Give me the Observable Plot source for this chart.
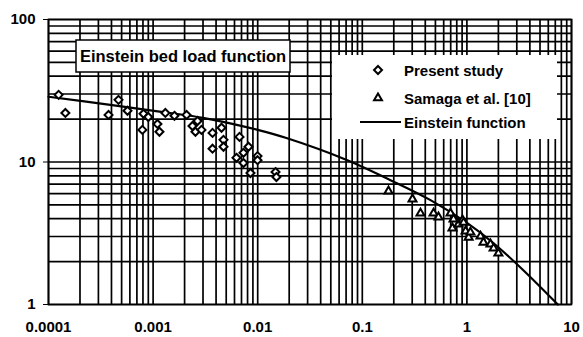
<!DOCTYPE html>
<html><head><meta charset="utf-8">
<script src="https://cdn.jsdelivr.net/npm/d3@7"></script>
<script src="https://cdn.jsdelivr.net/npm/@observablehq/plot@0.6"></script>
<style>body{margin:0;background:#fff} svg{display:block}</style>
</head><body><div id="chart"></div>
<script>
// Present study (diamonds)
const presentX = [1.25e-4,1.45e-4,3.75e-4,4.67e-4,5.69e-4,8.1e-4,7.9e-4,9.0e-4,1.10e-3,1.15e-3,1.31e-3,1.60e-3,2.09e-3,2.66e-3,2.38e-3,2.54e-3,2.90e-3,3.70e-3,4.51e-3,4.71e-3,3.70e-3,4.71e-3,6.70e-3,8.17e-3,6.27e-3,7.31e-3,7.31e-3,9.96e-3,9.96e-3,8.53e-3,0.0148,0.0151];
const presentY = [29.6,22.1,21.4,27.3,22.9,21.8,16.8,20.7,18.5,16.3,22.1,21.1,21.4,19.4,17.9,16.3,16.8,16.0,17.4,14.3,12.4,12.8,15.0,12.8,10.7,11.6,9.84,11.0,10.3,8.37,8.5,7.84];
// Samaga et al. [10] (triangles)
const samagaX = [0.178,0.302,0.360,0.480,0.535,0.697,0.745,0.728,0.832,0.908,0.93,0.971,1.04,1.08,1.35,1.44,1.68,1.80,2.00];
const samagaY = [6.25,5.49,4.37,4.37,4.10,4.37,3.97,3.43,3.66,3.91,3.76,3.27,2.96,3.21,3.01,2.73,2.65,2.48,2.29];
// Einstein function (line)
const einsteinX = [1e-4,3.9e-4,1.2e-3,3.0e-3,0.01,0.0185,0.072,0.186,0.449,1.01,1.8,3.25,7.4];
const einsteinY = [28.7,25.2,22.5,20.4,16.8,14.8,10.3,7.46,5.40,3.72,2.69,1.82,1.0];

const xTicks = [0.0001,0.001,0.01,0.1,1,10];
const xTickLabels = ["0.0001","0.001","0.01","0.1","1","10"];
const yTicks = [1,10,100];
const yTickLabels = ["1","10","100"];
const titleText = "Einstein bed load function";
const legendLabels = ["Present study","Samaga et al. [10]","Einstein function"];

const present = presentX.map((x,i)=>({x, y: presentY[i]}));
const samaga = samagaX.map((x,i)=>({x, y: samagaY[i]}));
const einstein = einsteinX.map((x,i)=>({x, y: einsteinY[i]}));
const xGrid = d3.scaleLog().domain([1e-4,10]).ticks();
const yGrid = d3.scaleLog().domain([1,100]).ticks();
const xFmt = new Map(xTicks.map((t,i)=>[t,xTickLabels[i]]));
const yFmt = new Map(yTicks.map((t,i)=>[t,yTickLabels[i]]));

const FONT = "'Liberation Sans', Arial, sans-serif";
const plot = Plot.plot({
  width:583, height:337, marginLeft:48, marginRight:12, marginTop:19, marginBottom:33,
  style:{fontFamily:FONT, fontWeight:"bold", fontSize:"15px", color:"#000", background:"#fff"},
  x:{type:"log", domain:[1e-4,10], ticks:xTicks, tickFormat:d=>xFmt.get(d), tickSize:0, tickPadding:17, label:null},
  y:{type:"log", domain:[1,100], ticks:yTicks, tickFormat:d=>yFmt.get(d), tickSize:5, tickPadding:8, label:null},
  marks:[
    Plot.ruleX(xGrid, {stroke:"#000", strokeWidth:1.7}),
    Plot.ruleY(yGrid, {stroke:"#000", strokeWidth:1.7}),
    Plot.frame({stroke:"#000", strokeWidth:1.7}),
    Plot.line(einstein, {x:"x", y:"y", curve:"catmull-rom", stroke:"#000", strokeWidth:2.2}),
    Plot.dot(present, {x:"x", y:"y", symbol:"diamond2", r:3.6, stroke:"#000", strokeWidth:2, fill:"#fff"}),
    Plot.dot(samaga, {x:"x", y:"y", symbol:"triangle2", r:3.8, stroke:"#000", strokeWidth:2, fill:"#fff"})
  ]
});
document.getElementById("chart").appendChild(plot);

const svg = d3.select(plot);
// Title box
const tg = svg.append("g");
tg.append("rect").attr("x",76).attr("y",40).attr("width",214).attr("height",32)
  .attr("fill","#fff").attr("stroke","#000").attr("stroke-width",1.5);
tg.append("text").attr("x",183).attr("y",62).attr("text-anchor","middle")
  .attr("font-family",FONT).attr("font-weight","bold").attr("font-size","16.5px").text(titleText);
// Legend box
const lg = svg.append("g");
lg.append("rect").attr("x",332).attr("y",55).attr("width",225).attr("height",84).attr("fill","#fff");
lg.append("path").attr("d",d3.symbol(d3.symbolDiamond2, Math.PI*3.6*3.6)()).attr("transform","translate(378,70)")
  .attr("fill","#fff").attr("stroke","#000").attr("stroke-width",2);
lg.append("path").attr("d",d3.symbol(d3.symbolTriangle2, Math.PI*3.8*3.8)()).attr("transform","translate(378,98)")
  .attr("fill","#fff").attr("stroke","#000").attr("stroke-width",2);
lg.append("line").attr("x1",360).attr("x2",401).attr("y1",122).attr("y2",122).attr("stroke","#000").attr("stroke-width",2.2);
[70,98,122].forEach((y,i)=>{
  lg.append("text").attr("x",404).attr("y",y+5.5).attr("text-anchor","start")
    .attr("font-family",FONT).attr("font-weight","bold").attr("font-size","15px").text(legendLabels[i]);
});
</script>
</body></html>
